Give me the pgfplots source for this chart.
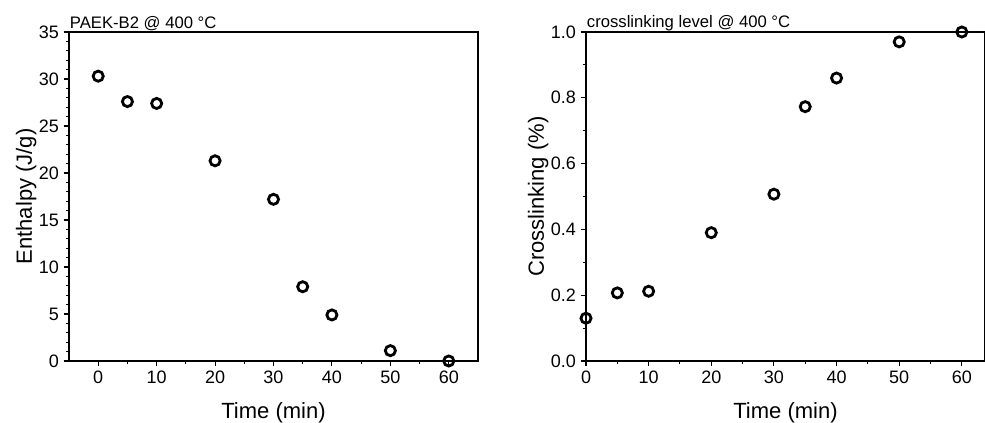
\documentclass[border=0pt]{standalone}
\usepackage{fontspec}
\setmainfont{Liberation Sans}
\usepackage{pgfplots}
\pgfplotsset{compat=1.18}
\pgfplotsset{
  panel/.style={
    scale only axis,
    height=246.75pt,
    axis line style={line width=0.8pt},
    tick align=outside,
    tick style={black, line width=0.8pt},
    major tick length=4pt,
    minor tick length=2.5pt,
    xtick pos=lower, ytick pos=left,
    xtick={0,10,...,60},
    minor x tick num=1,
    ticklabel style={font=\fontsize{13.5}{15}\selectfont},
    label style={font=\fontsize{16.5}{18}\selectfont},
    /pgf/number format/assume math mode=true,
    xlabel={Time (min)},
    xlabel style={yshift=-7pt},
    clip=false,
  },
  dots/.style={only marks, mark=o, mark size=3.8pt, line width=2.1pt, black},
}
\begin{document}
\begin{tikzpicture}
\useasboundingbox (0,0) rectangle (738.75pt,317.25pt);

% left panel: enthalpy
\begin{axis}[panel, at={(51.75pt,46.5pt)}, anchor=south west,
  width=306.75pt,
  xmin=-5, xmax=65, ymin=0, ymax=35,
  ytick={0,5,...,35}, minor y tick num=4,
  ylabel={Enthalpy (J/g)},
  ylabel style={yshift=-5pt},
]
\addplot[dots] coordinates {
  (0,30.3) (5,27.6) (10,27.4) (20,21.3) (30,17.2)
  (35,7.9) (40,4.9) (50,1.1) (60,0)
};
\node[anchor=south west, inner sep=0.5pt, font=\fontsize{12.5}{14}\selectfont]
  at (rel axis cs:0,1) {PAEK-B2 @ 400 °C};
\end{axis}

% right panel: crosslinking
\begin{axis}[panel, at={(439.5pt,46.5pt)}, anchor=south west,
  width=299.25pt,
  xmin=0, xmax=63.7, ymin=0, ymax=1,
  ytick={0,0.2,...,1.0}, minor y tick num=1,
  yticklabel style={/pgf/number format/fixed, /pgf/number format/fixed zerofill, /pgf/number format/precision=1},
  ylabel={Crosslinking (\%)},
  ylabel style={yshift=-5pt},
]
\addplot[dots] coordinates {
  (0,0.130) (5,0.207) (10,0.212) (20,0.390) (30,0.507)
  (35,0.773) (40,0.860) (50,0.970) (60,1.000)
};
\node[anchor=south west, inner sep=0.5pt, font=\fontsize{12.5}{14}\selectfont]
  at (rel axis cs:0,1) {crosslinking level @ 400 °C};
\end{axis}
\end{tikzpicture}
\end{document}
